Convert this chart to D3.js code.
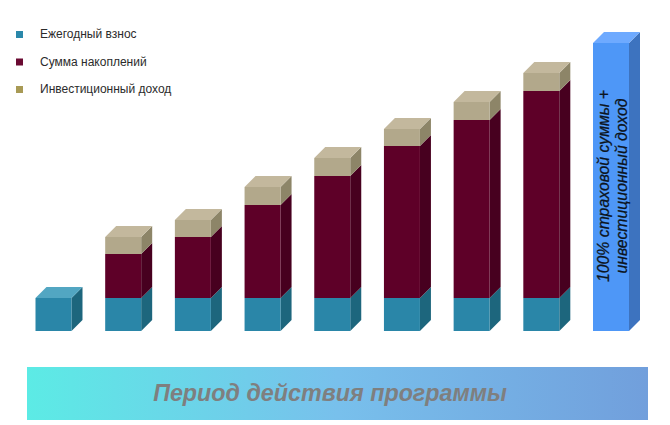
<!DOCTYPE html>
<html>
<head>
<meta charset="utf-8">
<script src="https://d3js.org/d3.v7.min.js"></script>
<style>
  html, body { margin: 0; padding: 0; background: #fff; }
  svg { display: block; }
  text { font-family: "Liberation Sans", Arial, sans-serif; }
</style>
</head>
<body>
<svg width="670" height="425"></svg>
<script>
// values (arbitrary units, no axis in the original)
var years = [1, 2, 3, 4, 5, 6, 7, 8];
var annual = [33, 33, 33, 33, 33, 33, 33, 33];
var savings = [0, 44, 61, 93, 122, 152, 178, 207];
var income = [0, 17, 17, 18, 18, 17, 18, 18];
var fullBarKey = "full";
var fullBarValue = 288;

var seriesNames = ["Ежегодный взнос", "Сумма накоплений", "Инвестиционный доход"];
var fullBarLines = ["100% страховой суммы +", "инвестиционный доход"];
var periodLabel = "Период действия программы";

var colors = [
    {front: "#2a86a8", side: "#1d667d", top: "#52a6c2", legend: "#2a88aa"},
    {front: "#5e0028", side: "#47001f", top: "#7a2a48", legend: "#6a0a32"},
    {front: "#b2a88b", side: "#8d8568", top: "#c3b89d", legend: "#a89a55"}
];
var blue = {front: "#4e97f7", side: "#3d73bf", top: "#6eaaff"};

var svg = d3.select("svg");
var depth = 11;

var x = d3.scaleBand()
    .domain(years.concat([fullBarKey]))
    .range([35.5, 629])
    .paddingInner(0.4835)
    .paddingOuter(0);

var y = d3.scaleLinear()
    .domain([0, fullBarValue])
    .range([331, 43]);

var defs = svg.append("defs");
var grad = defs.append("linearGradient").attr("id", "band");
grad.append("stop").attr("offset", "0%").attr("stop-color", "#5cebe5");
grad.append("stop").attr("offset", "50%").attr("stop-color", "#78c0ec");
grad.append("stop").attr("offset", "100%").attr("stop-color", "#719fdc");

// one 3d block: side, front, and top only if asked for
function block(g, key, v0, v1, c, withTop) {
    var x0 = x(key), x1 = x0 + x.bandwidth();
    var yb = y(v0), yt = y(v1);
    var pts = function(a) { return a.map(function(p) { return p.join(","); }).join(" "); };

    g.append("polygon")
        .attr("points", pts([[x1, yb], [x1 + depth, yb - depth], [x1 + depth, yt - depth], [x1, yt]]))
        .attr("fill", c.side);
    g.append("rect")
        .attr("x", x0).attr("y", yt)
        .attr("width", x.bandwidth()).attr("height", yb - yt)
        .attr("fill", c.front);
    if (withTop) {
        g.append("polygon")
            .attr("points", pts([[x0, yt], [x0 + depth, yt - depth], [x1 + depth, yt - depth], [x1, yt]]))
            .attr("fill", c.top);
    }
}

var bars = svg.append("g");
years.forEach(function(yr, i) {
    var g = bars.append("g");
    block(g, yr, 0, annual[i], colors[0], savings[i] === 0);
    if (savings[i] > 0) {
        block(g, yr, annual[i], annual[i] + savings[i], colors[1], false);
        block(g, yr, annual[i] + savings[i], annual[i] + savings[i] + income[i], colors[2], true);
    }
});

// tall blue bar with its rotated label
var full = svg.append("g");
block(full, fullBarKey, 0, fullBarValue, blue, true);

var cx = x(fullBarKey) + x.bandwidth() / 2;
fullBarLines.forEach(function(line, i) {
    full.append("text")
        .attr("transform", "translate(" + (cx - 2 + i * 18) + ",186) rotate(-90)")
        .attr("text-anchor", "middle")
        .attr("font-size", 15.8)
        .attr("font-style", "italic")
        .attr("fill", "#0c1420")
        .attr("stroke", "#0c1420")
        .attr("stroke-width", 0.25)
        .text(line);
});

// legend
var legend = svg.append("g").selectAll("g")
    .data(seriesNames)
    .enter()
    .append("g")
    .attr("transform", function(d, i) { return "translate(0," + (34 + i * 27.5) + ")"; });

legend.append("rect")
    .attr("x", 16).attr("y", -3)
    .attr("width", 7).attr("height", 7)
    .attr("fill", function(d, i) { return colors[i].legend; });

legend.append("text")
    .attr("x", 40).attr("y", 4)
    .attr("font-size", 12)
    .attr("fill", "#2b2b2b")
    .text(function(d) { return d; });

// bottom band
svg.append("rect")
    .attr("x", 27).attr("y", 367)
    .attr("width", 621).attr("height", 53)
    .attr("fill", "url(#band)");

svg.append("text")
    .attr("x", 330).attr("y", 401)
    .attr("text-anchor", "middle")
    .attr("font-size", 23.3)
    .attr("font-weight", "bold")
    .attr("font-style", "italic")
    .attr("fill", "#7f7f7f")
    .text(periodLabel);
</script>
</body>
</html>
